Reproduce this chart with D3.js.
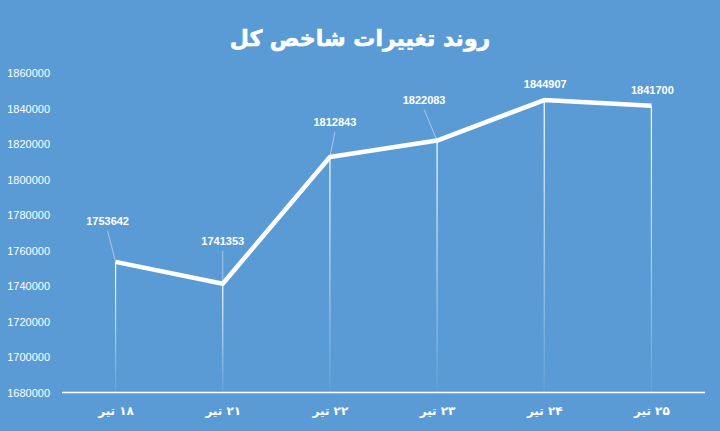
<!DOCTYPE html>
<html>
<head>
<meta charset="utf-8">
<script src="https://cdn.jsdelivr.net/npm/d3@7"></script>
<style>
  body { margin: 0; background: #5B9BD5; }
  svg { display: block; }
</style>
</head>
<body>
<div id="chart"></div>
<script>
var categories = ["۱۸ تیر", "۲۱ تیر", "۲۲ تیر", "۲۳ تیر", "۲۴ تیر", "۲۵ تیر"];
var values = [1753642, 1741353, 1812843, 1822083, 1844907, 1841700];
var yTicks = [1680000, 1700000, 1720000, 1740000, 1760000, 1780000, 1800000, 1820000, 1840000, 1860000];
// label offsets from the point (dx, dy), as Excel placed them
var labelOffsets = [[-8, -41], [0, -43], [5, -35], [-13, -41], [1, -16], [1, -16]];

var width = 720, height = 431;
var svg = d3.select("#chart").append("svg")
    .attr("width", width)
    .attr("height", height);

svg.append("rect").attr("width", width).attr("height", height).attr("fill", "#5B9BD5");

var x = d3.scalePoint().domain(categories).range([62, 705]).padding(0.5);
var y = d3.scaleLinear().domain([1680000, 1860000]).range([392.5, 73.3]);

// title
svg.append("text")
    .attr("x", 360).attr("y", 46)
    .attr("text-anchor", "middle")
    .style("direction", "rtl")
    .attr("font-family", "DejaVu Sans")
    .attr("font-weight", "bold")
    .attr("font-size", 22)
    .attr("fill", "white")
    .attr("stroke", "white")
    .attr("stroke-width", 0.6)
    .text("روند تغییرات شاخص کل");

// gradient for drop lines
var grad = svg.append("defs").append("linearGradient")
    .attr("id", "drop").attr("x1", 0).attr("y1", 0).attr("x2", 0).attr("y2", 1);
grad.append("stop").attr("offset", "0%").attr("stop-color", "white").attr("stop-opacity", 1);
grad.append("stop").attr("offset", "100%").attr("stop-color", "white").attr("stop-opacity", 0.05);

// y axis labels
var yAxis = svg.append("g")
    .attr("transform", "translate(50,0)")
    .call(d3.axisLeft(y).tickValues(yTicks).tickSize(0).tickPadding(0).tickFormat(d3.format("d")));
yAxis.select(".domain").remove();
yAxis.selectAll("text")
    .attr("fill", "white")
    .attr("font-family", "Liberation Sans")
    .attr("font-size", 11);

// drop lines
svg.selectAll(".drop").data(values).enter().append("rect")
    .attr("class", "drop")
    .attr("x", function(d, i){ return x(categories[i]) - 0.6; })
    .attr("y", function(d){ return y(d); })
    .attr("width", 1.2)
    .attr("height", function(d){ return y(1680000) - y(d); })
    .attr("fill", "url(#drop)");

// x axis
var xAxis = svg.append("g")
    .attr("transform", "translate(0," + y(1680000) + ")")
    .call(d3.axisBottom(x).tickSize(0).tickPadding(14));
xAxis.select(".domain")
    .attr("stroke", "white")
    .attr("stroke-width", 1.5)
    .attr("d", "M62,0H705");
xAxis.selectAll("text")
    .style("direction", "rtl")
    .attr("fill", "white")
    .attr("font-family", "DejaVu Sans")
    .attr("font-weight", "bold")
    .attr("font-size", 12);

// line
var line = d3.line()
    .x(function(d, i){ return x(categories[i]); })
    .y(function(d){ return y(d); });
svg.append("path")
    .datum(values)
    .attr("d", line)
    .attr("fill", "none")
    .attr("stroke", "white")
    .attr("stroke-width", 4.5)
    .attr("stroke-linejoin", "round");

// leader lines
svg.selectAll(".leader").data(values).enter()
    .filter(function(d, i){ return i < 4; })
    .append("line")
    .attr("x1", function(d, i){ return x(categories[i]) + labelOffsets[i][0]; })
    .attr("y1", function(d, i){ return y(d) + labelOffsets[i][1] + 10; })
    .attr("x2", function(d, i){ return x(categories[i]); })
    .attr("y2", function(d){ return y(d); })
    .attr("stroke", "white")
    .attr("stroke-opacity", 0.45)
    .attr("stroke-width", 1);

// data labels
svg.selectAll(".lbl").data(values).enter().append("text")
    .attr("class", "lbl")
    .attr("x", function(d, i){ return x(categories[i]) + labelOffsets[i][0]; })
    .attr("y", function(d, i){ return y(d) + labelOffsets[i][1] + 4; })
    .attr("text-anchor", "middle")
    .attr("fill", "white")
    .attr("font-family", "Liberation Sans")
    .attr("font-weight", "bold")
    .attr("font-size", 11)
    .text(function(d){ return d; });
</script>
</body>
</html>
